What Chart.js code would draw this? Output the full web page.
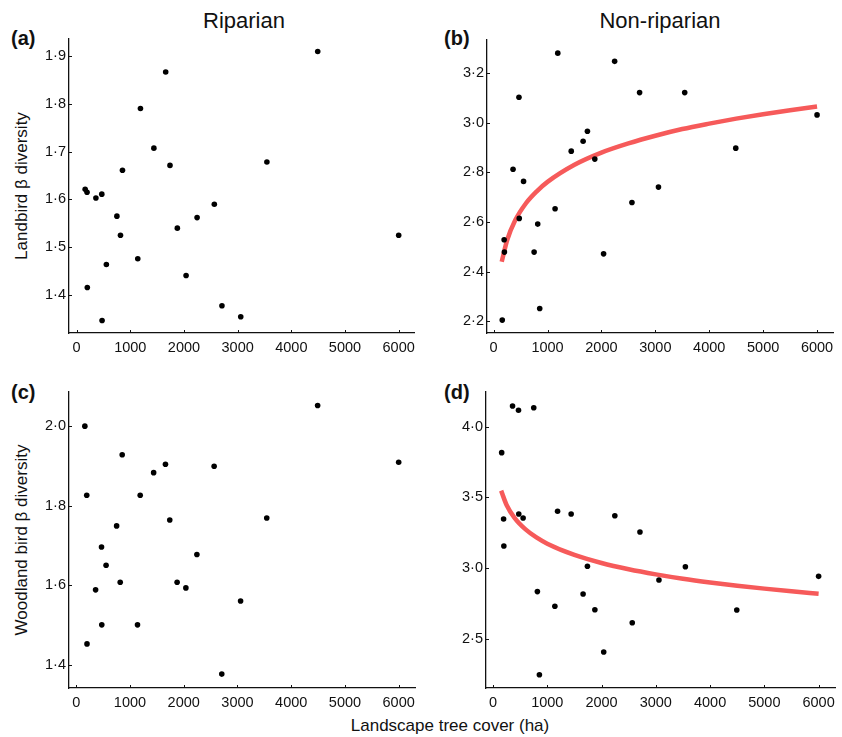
<!DOCTYPE html>
<html>
<head>
<meta charset="utf-8">
<script src="https://cdn.jsdelivr.net/npm/chart.js@4.4.1/dist/chart.umd.min.js"></script>
<style>
  html, body { margin: 0; padding: 0; background: #fff; }
  body { width: 842px; height: 737px; position: relative; overflow: hidden;
         font-family: "Liberation Sans", Arial, sans-serif; color: #111; }
  canvas { position: absolute; }
  .txt { position: absolute; white-space: nowrap; line-height: 1; }
  .head { font-size: 22px; line-height: 22px; transform: translateX(-50%); }
  .tag { font-size: 20px; line-height: 20px; font-weight: bold; }
  .ytitle { font-size: 17px; line-height: 17px; transform: translate(-50%, -50%) rotate(-90deg); }
  .xtitle { font-size: 17px; line-height: 17px; transform: translateX(-50%); }
</style>
</head>
<body>
<div class="txt head" style="left:244px; top:9.5px">Riparian</div>
<div class="txt head" style="left:660px; top:9.5px">Non-riparian</div>
<div class="txt tag" style="left:11px; top:28px">(a)</div>
<div class="txt tag" style="left:444px; top:28px">(b)</div>
<div class="txt tag" style="left:11px; top:382px">(c)</div>
<div class="txt tag" style="left:444px; top:382px">(d)</div>
<div class="txt ytitle" style="left:20.5px; top:186px">Landbird β diversity</div>
<div class="txt ytitle" style="left:20.5px; top:540px">Woodland bird β diversity</div>
<div class="txt xtitle" style="left:450px; top:717px">Landscape tree cover (ha)</div>

<canvas id="pa"></canvas>
<canvas id="pb"></canvas>
<canvas id="pc"></canvas>
<canvas id="pd"></canvas>

<script>
// landscape tree cover (ha), shared by all four panels
const treeCover = [160, 195, 200, 360, 470, 475, 555, 751, 818, 855, 1140, 1190,
  1440, 1660, 1740, 1877, 2040, 2245, 2566, 2708, 3058, 3545, 4492, 6000];

// beta diversity per landscape, same order as treeCover
const landbirdRiparian = [1.621, 1.615, 1.416, 1.603, 1.611, 1.347, 1.464, 1.565, 1.525, 1.661, 1.476, 1.790,
  1.707, 1.866, 1.671, 1.540, 1.441, 1.562, 1.590, 1.378, 1.355, 1.678, 1.909, 1.525];
const landbirdNonRiparian = [2.205, 2.529, 2.479, 2.813, 3.103, 2.615, 2.764, 2.479, 2.592, 2.252, 2.654, 3.281,
  2.886, 2.926, 2.966, 2.854, 2.472, 3.248, 2.679, 3.122, 2.741, 3.122, 2.898, 3.032];
const woodlandRiparian = [2.000, 1.826, 1.452, 1.588, 1.696, 1.500, 1.650, 1.749, 1.607, 1.928, 1.500, 1.826,
  1.883, 1.904, 1.764, 1.607, 1.593, 1.677, 1.899, 1.376, 1.560, 1.769, 2.052, 1.909];
const woodlandNonRiparian = [3.816, 3.347, 3.156, 4.146, 4.116, 3.382, 3.354, 4.134, 2.833, 2.245, 2.729, 3.401,
  3.382, 2.816, 3.012, 2.705, 2.406, 3.370, 2.613, 3.255, 2.915, 3.009, 2.703, 2.941];

// fitted curves (b) and (d)
const fitX = [150, 250, 400, 600, 800, 1000, 1500, 2000, 2500, 3000, 3500, 4000, 4500, 5000, 5500, 6000];
const fitLandbirdNonRip = [2.44, 2.527, 2.607, 2.676, 2.724, 2.762, 2.831, 2.880, 2.917, 2.948, 2.975,
  2.997, 3.017, 3.035, 3.051, 3.066];
const fitWoodlandNonRip = [3.547, 3.446, 3.353, 3.273, 3.216, 3.172, 3.092, 3.035, 2.991, 2.955, 2.924,
  2.898, 2.875, 2.854, 2.835, 2.818];

// tick values
const xTicks = [0, 1000, 2000, 3000, 4000, 5000, 6000];
const yTicksA = [1.4, 1.5, 1.6, 1.7, 1.8, 1.9];
const yTicksB = [2.2, 2.4, 2.6, 2.8, 3.0, 3.2];
const yTicksC = [1.4, 1.6, 1.8, 2.0];
const yTicksD = [2.5, 3.0, 3.5, 4.0];

const FONT = '"Liberation Sans", Arial, sans-serif';
const INK = '#111';

// small tick marks pointing into the plot
const innerTicks = {
  id: 'innerTicks',
  afterDraw(chart) {
    const { ctx, chartArea, scales } = chart;
    ctx.save();
    ctx.strokeStyle = INK;
    ctx.lineWidth = 1;
    scales.x.ticks.forEach((t) => {
      const px = Math.round(scales.x.getPixelForValue(t.value)) + 0.5;
      ctx.beginPath();
      ctx.moveTo(px, chartArea.bottom);
      ctx.lineTo(px, chartArea.bottom - 3);
      ctx.stroke();
    });
    scales.y.ticks.forEach((t) => {
      const py = Math.round(scales.y.getPixelForValue(t.value)) + 0.5;
      ctx.beginPath();
      ctx.moveTo(chartArea.left, py);
      ctx.lineTo(chartArea.left + 3, py);
      ctx.stroke();
    });
    ctx.restore();
  },
};

function makePanel(id, area, xRange, yRange, yTicks, ys, fitYs) {
  const cv = document.getElementById(id);
  const left = area.l < 421 ? 0 : 421;
  const top = area.t - 16;
  const height = area.b + 30 - top;
  cv.width = 421;
  cv.height = height;
  cv.style.left = left + 'px';
  cv.style.top = top + 'px';

  const datasets = [{
    data: treeCover.map((x, i) => ({ x, y: ys[i] })),
    pointRadius: 2.8,
    pointBackgroundColor: '#000',
    pointBorderWidth: 0,
    showLine: false,
  }];
  if (fitYs) {
    datasets.push({
      data: fitX.map((x, i) => ({ x, y: fitYs[i] })),
      showLine: true,
      borderColor: '#f65a5a',
      borderWidth: 4.5,
      pointRadius: 0,
      cubicInterpolationMode: 'monotone',
    });
  }

  const tickFont = { family: FONT, size: 14.5 };

  new Chart(cv.getContext('2d'), {
    type: 'scatter',
    data: { datasets },
    options: {
      responsive: false,
      animation: false,
      layout: { padding: { left: 0, top: 16, right: left + 421 - area.r, bottom: 0 } },
      plugins: { legend: { display: false }, tooltip: { enabled: false } },
      scales: {
        x: {
          type: 'linear',
          min: xRange[0],
          max: xRange[1],
          afterBuildTicks: (s) => { s.ticks = xTicks.map((v) => ({ value: v })); },
          afterFit: (s) => { s.height = 30; },
          grid: { display: false, drawTicks: false },
          border: { color: INK, width: 1.3 },
          ticks: { padding: 6, color: INK, font: tickFont, maxRotation: 0, autoSkip: false,
                   callback: (v) => String(v) },
        },
        y: {
          type: 'linear',
          min: yRange[0],
          max: yRange[1],
          afterBuildTicks: (s) => { s.ticks = yTicks.map((v) => ({ value: v })); },
          afterFit: (s) => { s.width = area.l - left; },
          grid: { display: false, drawTicks: false },
          border: { color: INK, width: 1.3 },
          ticks: { padding: 3, color: INK, font: tickFont, autoSkip: false,
                   callback: (v) => v.toFixed(1).replace('.', '·') },
        },
      },
    },
    plugins: [innerTicks],
  });
}

makePanel('pa', { l: 69, t: 39, r: 418, b: 333 }, [-141, 6295], [1.321, 1.935], yTicksA, landbirdRiparian);
makePanel('pb', { l: 487, t: 40, r: 833, b: 333 }, [-123, 6296], [2.153, 3.334], yTicksB, landbirdNonRiparian, fitLandbirdNonRip);
makePanel('pc', { l: 69, t: 392, r: 419, b: 688 }, [-135, 6309], [1.341, 2.086], yTicksC, woodlandRiparian);
makePanel('pd', { l: 486, t: 392, r: 835, b: 688 }, [-129, 6302], [2.151, 4.245], yTicksD, woodlandNonRiparian, fitWoodlandNonRip);
</script>
</body>
</html>
